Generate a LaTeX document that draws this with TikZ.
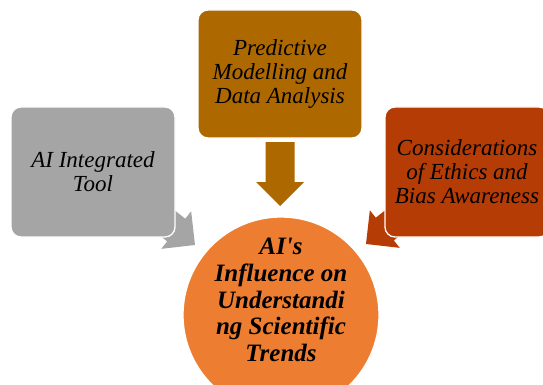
\documentclass[tikz,border=0pt]{standalone}
\usepackage{fontspec}
\setmainfont{Liberation Serif}
\definecolor{cgray}{HTML}{A5A5A5}
\definecolor{cbrown}{HTML}{AD6800}
\definecolor{cred}{HTML}{B53C05}
\definecolor{corange}{HTML}{ED7D31}
\newcommand\blockarr[3]{%
  \fill[#1, shift={(#2)}, rotate=#3] (0,0) -- (-24,24) -- (-24,14.5) -- (-64,14.5)
    -- (-64,-14.5) -- (-24,-14.5) -- (-24,-24) -- cycle;}
\begin{document}
\begin{tikzpicture}[x=1pt,y=-1pt,
  box/.style={rounded corners=10pt, draw=white, line width=1.3pt, align=center,
    minimum width=164pt, inner sep=0pt,
    font=\fontsize{23}{24}\selectfont\itshape},
  hub/.style={circle, fill=corange, draw=white, line width=1.3pt,
    minimum size=196pt, inner sep=0pt},
  hubtext/.style={align=center, inner sep=0pt,
    font=\fontsize{25}{26.8}\selectfont\bfseries\itshape\addfontfeatures{Ligatures=TeXOff}}]
\useasboundingbox[fill=white] (0,0) rectangle (543,385);
\clip (0,0) rectangle (543,385);
% arrow tips
\coordinate (tipL) at (195,245);
\coordinate (tipT) at (280,206);
\coordinate (tipR) at (366,244);
\blockarr{cgray}{tipL}{-38.5}
\blockarr{cbrown}{tipT}{-90}
\blockarr{cred}{tipR}{-141.5}
% boxes
\node[box, fill=cgray, minimum height=130pt] (tool) at (93,172) {AI Integrated\\Tool};
\node[box, fill=cbrown, minimum height=128pt] (pred) at (280,74) {Predictive\\Modelling and\\Data Analysis};
\node[box, fill=cred, minimum height=130pt] (ethics) at (467,172) {Considerations\\of Ethics and\\Bias Awareness};
% hub
\node[hub] (hub) at (281,315) {};
\node[hubtext] (hubtxt) at (281,300) {AI's\\Influence on\\Understandi\\ng Scientific\\Trends};
\end{tikzpicture}
\end{document}
